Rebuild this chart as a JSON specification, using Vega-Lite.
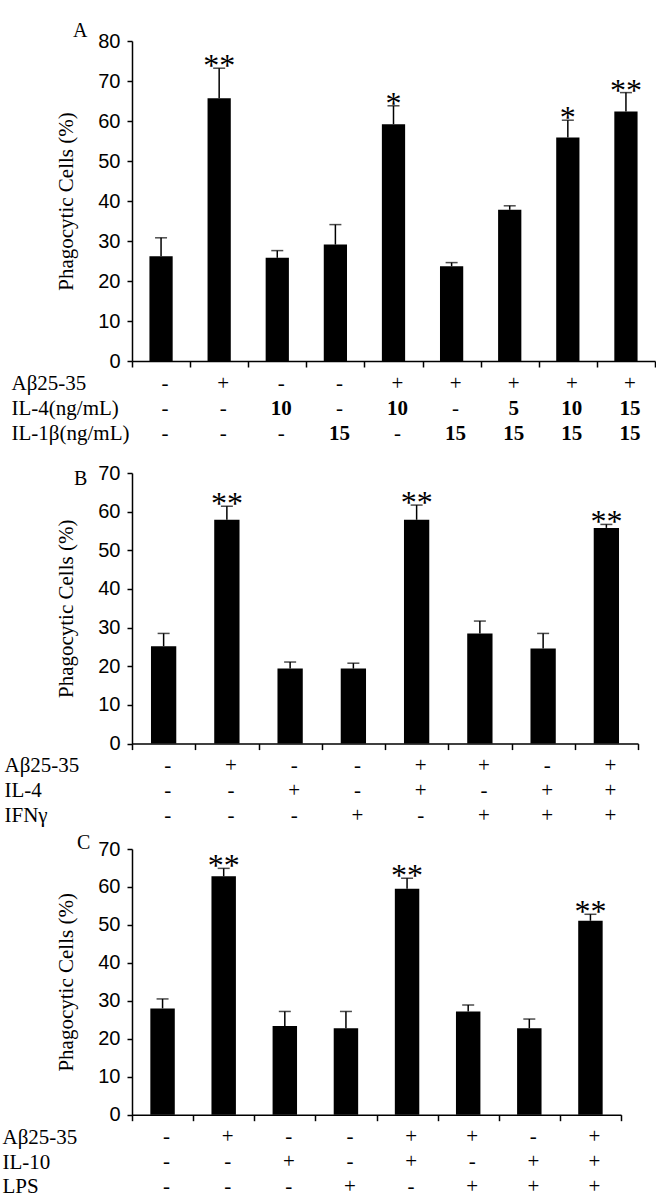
{
  "$schema": "https://vega.github.io/schema/vega-lite/v6.json",
  "padding": {"left": 2, "top": 21, "right": 0, "bottom": 0},
  "background": "white",
  "datasets": {
    "a": [
      {"id": "1", "v": 26.2, "e": 30.8, "sig": "", "ab": "-", "il4": "-", "il1b": "-"},
      {"id": "2", "v": 65.7, "e": 73.2, "sig": "**", "ab": "+", "il4": "-", "il1b": "-"},
      {"id": "3", "v": 25.8, "e": 27.6, "sig": "", "ab": "-", "il4": "10", "il1b": "-"},
      {"id": "4", "v": 29.1, "e": 34.1, "sig": "", "ab": "-", "il4": "-", "il1b": "15"},
      {"id": "5", "v": 59.2, "e": 63.8, "sig": "*", "ab": "+", "il4": "10", "il1b": "-"},
      {"id": "6", "v": 23.7, "e": 24.6, "sig": "", "ab": "+", "il4": "-", "il1b": "15"},
      {"id": "7", "v": 37.8, "e": 38.8, "sig": "", "ab": "+", "il4": "5", "il1b": "15"},
      {"id": "8", "v": 55.9, "e": 60.2, "sig": "*", "ab": "+", "il4": "10", "il1b": "15"},
      {"id": "9", "v": 62.4, "e": 67.1, "sig": "**", "ab": "+", "il4": "15", "il1b": "15"}
    ],
    "b": [
      {"id": "1", "v": 25.2, "e": 28.5, "sig": "", "ab": "-", "il4": "-", "ifn": "-"},
      {"id": "2", "v": 57.9, "e": 61.4, "sig": "**", "ab": "+", "il4": "-", "ifn": "-"},
      {"id": "3", "v": 19.4, "e": 21.1, "sig": "", "ab": "-", "il4": "+", "ifn": "-"},
      {"id": "4", "v": 19.4, "e": 20.8, "sig": "", "ab": "-", "il4": "-", "ifn": "+"},
      {"id": "5", "v": 57.9, "e": 61.7, "sig": "**", "ab": "+", "il4": "+", "ifn": "-"},
      {"id": "6", "v": 28.5, "e": 31.7, "sig": "", "ab": "+", "il4": "-", "ifn": "+"},
      {"id": "7", "v": 24.6, "e": 28.5, "sig": "", "ab": "-", "il4": "+", "ifn": "+"},
      {"id": "8", "v": 55.8, "e": 56.7, "sig": "**", "ab": "+", "il4": "+", "ifn": "+"}
    ],
    "c": [
      {"id": "1", "v": 28.0, "e": 30.5, "sig": "", "ab": "-", "il10": "-", "lps": "-"},
      {"id": "2", "v": 62.8, "e": 64.9, "sig": "**", "ab": "+", "il10": "-", "lps": "-"},
      {"id": "3", "v": 23.4, "e": 27.2, "sig": "", "ab": "-", "il10": "+", "lps": "-"},
      {"id": "4", "v": 22.8, "e": 27.2, "sig": "", "ab": "-", "il10": "-", "lps": "+"},
      {"id": "5", "v": 59.5, "e": 62.3, "sig": "**", "ab": "+", "il10": "+", "lps": "-"},
      {"id": "6", "v": 27.2, "e": 28.9, "sig": "", "ab": "+", "il10": "-", "lps": "+"},
      {"id": "7", "v": 22.8, "e": 25.2, "sig": "", "ab": "-", "il10": "+", "lps": "+"},
      {"id": "8", "v": 51.1, "e": 52.8, "sig": "**", "ab": "+", "il10": "+", "lps": "+"}
    ]
  },
  "concat": [
    {
      "concat": [
        {
          "concat": [
            {
              "width": 523, "height": 320,
              "title": {"text": "A", "anchor": "start", "frame": "group", "dx": -59, "offset": -26, "baseline": "alphabetic", "font": "Liberation Serif", "fontSize": 20, "fontWeight": "normal"},
              "data": {"name": "a"},
              "encoding": {
                "x": {"field": "id", "type": "nominal", "scale": {"paddingInner": 0, "paddingOuter": 0},
                  "axis": {"title": null, "labels": false, "tickBand": "extent", "tickSize": 6}},
                "y": {"type": "quantitative", "scale": {"domain": [0, 80]},
                  "axis": {"values": [0, 10, 20, 30, 40, 50, 60, 70, 80], "title": "Phagocytic Cells (%)", "titlePadding": 21}}
              },
              "layer": [
                {"mark": {"type": "bar", "color": "black", "width": {"band": 0.4}},
                 "encoding": {"y": {"field": "v", "type": "quantitative"}}},
                {"mark": {"type": "rule", "color": "black", "strokeWidth": 1.5},
                 "encoding": {"y": {"field": "v", "type": "quantitative"}, "y2": {"field": "e"}}},
                {"mark": {"type": "tick", "color": "black", "thickness": 1.5, "size": 12},
                 "encoding": {"y": {"field": "e", "type": "quantitative"}}},
                {"mark": {"type": "text", "font": "Liberation Serif", "fontSize": 32, "baseline": "alphabetic", "dy": 8, "color": "black"},
                 "encoding": {"y": {"field": "e", "type": "quantitative"}, "text": {"field": "sig"}}}
              ]
            },
            {
              "width": 523, "height": 75,
              "data": {"name": "a"},
              "transform": [{"fold": ["ab", "il4", "il1b"], "as": ["row", "val"]}],
              "encoding": {
                "x": {"field": "id", "type": "nominal", "scale": {"paddingInner": 0, "paddingOuter": 0}, "axis": null},
                "y": {"field": "row", "type": "nominal", "scale": {"domain": ["ab", "il4", "il1b"]},
                  "axis": {"title": null, "domain": false, "ticks": false, "labelAlign": "left", "labelPadding": 121, "labelFont": "Liberation Serif", "labelFontSize": 21,
                    "labelExpr": "{'ab': 'Aβ25-35', 'il4': 'IL-4(ng/mL)', 'il1b': 'IL-1β(ng/mL)'}[datum.value]"}},
                "text": {"field": "val"}
              },
              "layer": [
                {"transform": [{"filter": "datum.val == '-' || datum.val == '+'"}],
                 "mark": {"type": "text", "font": "Liberation Serif", "fontSize": 21, "dx": 4, "color": "black"}},
                {"transform": [{"filter": "datum.val != '-' && datum.val != '+'"}],
                 "mark": {"type": "text", "font": "Liberation Serif", "fontSize": 21, "fontWeight": "bold", "dx": 4, "color": "black"}}
              ]
            }
          ],
          "columns": 1, "spacing": 0,
          "resolve": {"scale": {"x": "independent", "y": "independent"}}
        },
        {
          "concat": [
            {
              "width": 506, "height": 270.6,
              "title": {"text": "B", "anchor": "start", "frame": "group", "dx": -58, "offset": -42, "baseline": "alphabetic", "font": "Liberation Serif", "fontSize": 20, "fontWeight": "normal"},
              "data": {"name": "b"},
              "encoding": {
                "x": {"field": "id", "type": "nominal", "scale": {"paddingInner": 0, "paddingOuter": 0},
                  "axis": {"title": null, "labels": false, "tickBand": "extent", "tickSize": 6}},
                "y": {"type": "quantitative", "scale": {"domain": [0, 70]},
                  "axis": {"values": [0, 10, 20, 30, 40, 50, 60, 70], "title": "Phagocytic Cells (%)", "titlePadding": 21}}
              },
              "layer": [
                {"mark": {"type": "bar", "color": "black", "width": {"band": 0.4}},
                 "encoding": {"y": {"field": "v", "type": "quantitative"}}},
                {"mark": {"type": "rule", "color": "black", "strokeWidth": 1.5},
                 "encoding": {"y": {"field": "v", "type": "quantitative"}, "y2": {"field": "e"}}},
                {"mark": {"type": "tick", "color": "black", "thickness": 1.5, "size": 12},
                 "encoding": {"y": {"field": "e", "type": "quantitative"}}},
                {"mark": {"type": "text", "font": "Liberation Serif", "fontSize": 32, "baseline": "alphabetic", "dy": 8, "color": "black"},
                 "encoding": {"y": {"field": "e", "type": "quantitative"}, "text": {"field": "sig"}}}
              ]
            },
            {
              "width": 506, "height": 75,
              "data": {"name": "b"},
              "transform": [{"fold": ["ab", "il4", "ifn"], "as": ["row", "val"]}],
              "encoding": {
                "x": {"field": "id", "type": "nominal", "scale": {"paddingInner": 0, "paddingOuter": 0}, "axis": null},
                "y": {"field": "row", "type": "nominal", "scale": {"domain": ["ab", "il4", "ifn"]},
                  "axis": {"title": null, "domain": false, "ticks": false, "labelAlign": "left", "labelPadding": 128, "labelOffset": -5, "labelFont": "Liberation Serif", "labelFontSize": 21,
                    "labelExpr": "{'ab': 'Aβ25-35', 'il4': 'IL-4', 'ifn': 'IFNγ'}[datum.value]"}},
                "text": {"field": "val"}
              },
              "layer": [
                {"mark": {"type": "text", "font": "Liberation Serif", "fontSize": 21, "dx": 4, "dy": -5, "color": "black"}}
              ]
            }
          ],
          "columns": 1, "spacing": 0,
          "resolve": {"scale": {"x": "independent", "y": "independent"}}
        }
      ],
      "columns": 1, "spacing": 17, "align": "none",
      "resolve": {"scale": {"x": "independent", "y": "independent"}}
    },
    {
      "concat": [
        {
          "width": 489, "height": 265.7,
          "title": {"text": "C", "anchor": "start", "frame": "group", "dx": -55, "offset": -30, "baseline": "alphabetic", "font": "Liberation Serif", "fontSize": 20, "fontWeight": "normal"},
          "data": {"name": "c"},
          "encoding": {
            "x": {"field": "id", "type": "nominal", "scale": {"paddingInner": 0, "paddingOuter": 0},
              "axis": {"title": null, "labels": false, "tickBand": "extent", "tickSize": 6}},
            "y": {"type": "quantitative", "scale": {"domain": [0, 70]},
              "axis": {"values": [0, 10, 20, 30, 40, 50, 60, 70], "title": "Phagocytic Cells (%)", "titlePadding": 21}}
          },
          "layer": [
            {"mark": {"type": "bar", "color": "black", "width": {"band": 0.4}},
             "encoding": {"y": {"field": "v", "type": "quantitative"}}},
            {"mark": {"type": "rule", "color": "black", "strokeWidth": 1.5},
             "encoding": {"y": {"field": "v", "type": "quantitative"}, "y2": {"field": "e"}}},
            {"mark": {"type": "tick", "color": "black", "thickness": 1.5, "size": 12},
             "encoding": {"y": {"field": "e", "type": "quantitative"}}},
            {"mark": {"type": "text", "font": "Liberation Serif", "fontSize": 32, "baseline": "alphabetic", "dy": 8, "color": "black"},
             "encoding": {"y": {"field": "e", "type": "quantitative"}, "text": {"field": "sig"}}}
          ]
        },
        {
          "width": 489, "height": 74,
          "data": {"name": "c"},
          "transform": [{"fold": ["ab", "il10", "lps"], "as": ["row", "val"]}],
          "encoding": {
            "x": {"field": "id", "type": "nominal", "scale": {"paddingInner": 0, "paddingOuter": 0}, "axis": null},
            "y": {"field": "row", "type": "nominal", "scale": {"domain": ["ab", "il10", "lps"]},
              "axis": {"title": null, "domain": false, "ticks": false, "labelAlign": "left", "labelPadding": 130, "labelFont": "Liberation Serif", "labelFontSize": 21,
                "labelExpr": "{'ab': 'Aβ25-35', 'il10': 'IL-10', 'lps': 'LPS'}[datum.value]"}},
            "text": {"field": "val"}
          },
          "layer": [
            {"mark": {"type": "text", "font": "Liberation Serif", "fontSize": 21, "dx": 4, "color": "black"}}
          ]
        }
      ],
      "columns": 1, "spacing": 0,
      "resolve": {"scale": {"x": "independent", "y": "independent"}}
    }
  ],
  "columns": 1, "spacing": 0, "align": "none",
  "resolve": {"scale": {"x": "independent", "y": "independent"}},
  "config": {
    "view": {"stroke": null},
    "axis": {"grid": false, "domainColor": "black", "tickColor": "black", "labelColor": "black", "titleColor": "black",
      "domainWidth": 1.5, "tickWidth": 1.5, "tickSize": 5, "labelPadding": 7,
      "labelFont": "Liberation Sans Narrow, Liberation Sans", "labelFontSize": 20,
      "titleFont": "Liberation Serif", "titleFontSize": 21, "titleFontWeight": "normal"},
    "title": {"color": "black"}
  }
}
